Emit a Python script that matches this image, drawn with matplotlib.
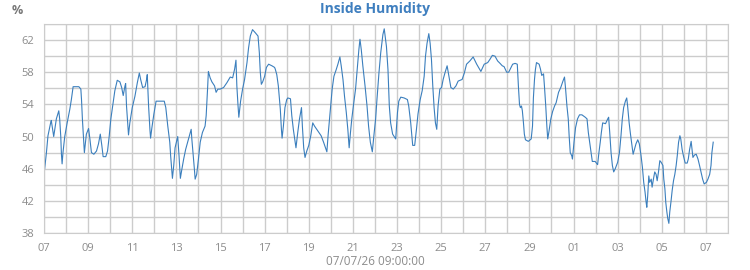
import matplotlib

matplotlib.use("Agg")
import matplotlib.pyplot as plt
import matplotlib.dates as mdates
import numpy as np
import pandas as pd

plt.rcParams["font.family"] = ["Open Sans", "DejaVu Sans"]

START = pd.Timestamp("2026-06-07 00:00")

# days since 2026-06-07 00:00 (one row per stretch)
day_offset = [
    0.03, 0.11, 0.18, 0.30, 0.33, 0.44, 0.56, 0.67, 0.71, 0.76, 0.79, 0.82,
    0.86, 0.94, 1.05, 1.17, 1.24, 1.32, 1.58, 1.67,
    1.70, 1.74, 1.80, 1.83,
    1.88, 1.92, 2.02, 2.08, 2.15, 2.26, 2.38, 2.47, 2.55, 2.62, 2.68, 2.80,
    2.88, 2.95, 3.03, 3.11, 3.21, 3.32,
    3.44, 3.52, 3.59, 3.67, 3.70,
    3.74, 3.80, 3.83,
    3.89, 4.00, 4.12, 4.23, 4.32,
    4.38, 4.47, 4.58, 4.65, 4.68,
    4.74, 4.80, 4.83, 4.89, 4.98, 5.08,
    5.45, 5.52, 5.61, 5.70, 5.74, 5.82,
    5.88, 5.94, 6.02, 6.06, 6.12, 6.18,
    6.24, 6.33, 6.42, 6.55, 6.67,
    6.70, 6.76, 6.82, 6.85,
    6.92, 7.00, 7.08, 7.18, 7.30, 7.35, 7.39, 7.42, 7.45,
    7.53, 7.61, 7.73, 7.80,
    7.88, 7.98, 8.14, 8.29, 8.44, 8.55, 8.64, 8.70,
    8.74, 8.79, 8.83,
    8.91, 9.00, 9.09, 9.20, 9.27, 9.35, 9.45,
    9.58, 9.70, 9.76, 9.80, 9.85,
    9.91, 10.00, 10.08, 10.18, 10.33, 10.45,
    10.48, 10.55, 10.62, 10.67, 10.71, 10.76, 10.79,
    10.85, 10.92, 11.00, 11.05, 11.17,
    11.23, 11.30, 11.36, 11.42, 11.50, 11.58, 11.67,
    11.71, 11.77, 11.83, 11.91, 12.00, 12.09, 12.18,
    12.26, 12.41, 12.56, 12.67, 12.76, 12.82,
    12.88, 12.94, 13.00, 13.06, 13.14, 13.24, 13.32, 13.41,
    13.47, 13.55, 13.62, 13.70, 13.77, 13.83,
    13.89, 13.95, 14.03, 14.12, 14.21, 14.27, 14.32,
    14.38, 14.45, 14.55, 14.64, 14.71, 14.79, 14.88,
    14.95, 15.03, 15.09, 15.18, 15.26, 15.36, 15.42,
    15.52, 15.59, 15.65, 15.71, 15.80, 15.94,
    16.02, 16.08, 16.17, 16.32, 16.47,
    16.53, 16.62, 16.68, 16.71, 16.80,
    16.88, 16.95, 17.05, 17.14, 17.23, 17.29, 17.36, 17.44,
    17.50, 17.56, 17.62, 17.68, 17.74, 17.80,
    17.86, 17.94, 18.02, 18.09, 18.17, 18.27,
    18.35, 18.44, 18.55, 18.67, 18.77, 18.95, 19.05, 19.15, 19.30, 19.45,
    19.61, 19.80, 19.95, 20.11, 20.21, 20.32, 20.44, 20.56, 20.67, 20.77,
    20.85, 20.97, 21.06, 21.15, 21.24, 21.35, 21.45,
    21.50, 21.55, 21.59, 21.64, 21.68, 21.73, 21.77, 21.82, 21.95, 22.08,
    22.14, 22.18, 22.23, 22.27, 22.32, 22.44, 22.50, 22.56, 22.64,
    22.68, 22.74, 22.79, 22.83,
    22.89, 22.97, 23.05, 23.14, 23.21, 23.32, 23.42, 23.52, 23.59,
    23.64, 23.70, 23.76, 23.80, 23.85, 23.92, 23.95,
    24.02, 24.09, 24.18, 24.27, 24.38, 24.53, 24.61,
    24.67, 24.73, 24.79, 24.85, 24.98, 25.09,
    25.15, 25.21, 25.26, 25.32, 25.45, 25.55, 25.59,
    25.64, 25.70, 25.76, 25.82, 25.89, 26.00,
    26.08, 26.15, 26.21, 26.27, 26.35, 26.41,
    26.45, 26.52, 26.58, 26.64, 26.70,
    26.76, 26.83, 26.91, 26.98,
    27.06, 27.12, 27.18, 27.24, 27.29, 27.32,
    27.36, 27.41, 27.45, 27.52, 27.56, 27.62, 27.68, 27.74, 27.79, 27.85,
    27.91, 27.97, 28.05,
    28.09, 28.14, 28.18, 28.23, 28.27, 28.32,
    28.36, 28.42, 28.47, 28.53, 28.59, 28.65, 28.70, 28.76, 28.82, 28.86,
    28.92, 28.98, 29.06, 29.15, 29.20, 29.26, 29.33,
    29.41, 29.48, 29.56, 29.64, 29.71, 29.79, 29.85, 29.92,
    30.02, 30.09, 30.17, 30.23, 30.27, 30.33,
]

humidity = [
    46.0, 48.0, 50.1, 51.7, 52.0, 50.0, 52.2, 53.2, 52.2, 50.0, 47.8, 46.6,
    48.0, 50.0, 51.7, 53.4, 54.6, 56.2, 56.2, 55.9,
    54.6, 52.2, 49.3, 48.0,
    49.3, 50.3, 51.0, 49.7, 48.0, 47.8, 48.2, 49.1, 50.3, 48.9, 47.5, 47.5,
    48.2, 49.9, 52.2, 53.8, 55.7, 57.0,
    56.8, 56.1, 55.1, 56.3, 56.6,
    53.8, 51.3, 50.2,
    51.7, 53.6, 55.0, 56.7, 57.9,
    57.1, 56.1, 56.2, 57.1, 57.7,
    53.8, 50.9, 49.8, 51.1, 52.8, 54.4,
    54.4, 53.6, 51.3, 49.3, 47.6, 44.8,
    46.4, 48.6, 49.5, 50.0, 47.6, 44.8,
    45.8, 47.2, 48.4, 49.7, 50.9,
    49.7, 47.8, 45.8, 44.7,
    45.3, 47.2, 49.3, 50.5, 51.3, 52.6, 54.6, 56.3, 58.1,
    57.3, 56.8, 56.3, 55.5,
    55.9, 55.9, 56.1, 56.7, 57.4, 57.3, 58.4, 59.5,
    56.3, 54.0, 52.4,
    54.4, 55.9, 57.1, 59.2, 61.0, 62.5, 63.3,
    62.9, 62.5, 60.4, 58.1, 56.5,
    56.8, 57.5, 58.6, 59.0, 58.8, 58.6,
    58.4, 57.7, 56.3, 54.6, 53.4, 50.9, 49.8,
    51.3, 53.6, 54.6, 54.8, 54.7,
    52.6, 50.9, 49.7, 48.6, 50.5, 52.2, 53.6,
    51.3, 48.6, 47.4, 48.2, 48.9, 50.1, 51.7,
    51.3, 50.7, 50.1, 49.3, 48.6, 48.1,
    50.3, 52.2, 54.2, 55.9, 57.5, 58.3, 59.0, 59.9,
    58.8, 57.1, 55.0, 53.0, 50.9, 48.6,
    50.5, 52.2, 54.0, 55.9, 58.8, 60.8, 62.1,
    60.8, 58.8, 56.3, 53.8, 51.3, 49.3, 48.1,
    50.1, 52.2, 54.6, 57.9, 60.4, 62.7, 63.4,
    61.2, 58.3, 53.8, 51.7, 50.3, 49.7,
    53.0, 54.4, 54.9, 54.8, 54.6,
    53.8, 51.7, 49.9, 48.9, 48.9,
    50.9, 52.8, 54.6, 55.7, 57.5, 60.0, 61.6, 62.8,
    61.6, 59.6, 56.3, 53.6, 51.7, 50.9,
    53.8, 55.9, 56.1, 57.1, 57.9, 58.8,
    57.5, 56.1, 55.9, 56.3, 56.9, 57.1, 57.9, 59.0, 59.4, 59.9,
    59.0, 58.1, 59.0, 59.2, 59.6, 60.1, 60.0, 59.4, 59.1, 58.8,
    58.7, 58.0, 58.0, 58.5, 59.0, 59.1, 59.0,
    56.3, 54.0, 53.6, 53.8, 53.2, 51.7, 50.3, 49.6, 49.4, 49.7,
    51.3, 54.8, 57.1, 58.3, 59.2, 59.0, 58.4, 57.6, 57.8,
    56.3, 53.8, 51.3, 49.7,
    50.7, 52.2, 53.1, 53.8, 54.2, 55.5, 56.1, 56.9, 57.4,
    55.9, 53.8, 52.2, 50.1, 48.0, 47.6, 47.2,
    49.3, 51.1, 52.2, 52.7, 52.7, 52.4, 52.2,
    50.5, 49.3, 48.0, 46.9, 46.9, 46.5,
    48.0, 49.3, 50.5, 51.7, 51.6, 52.2, 52.4,
    50.5, 48.0, 46.4, 45.6, 46.0, 46.8,
    48.0, 50.1, 52.2, 53.6, 54.4, 54.8,
    53.8, 51.7, 50.3, 49.1, 47.8,
    48.4, 49.1, 49.6, 49.1,
    47.6, 46.2, 44.3, 43.1, 41.8, 41.2,
    42.6, 45.1, 44.3, 44.7, 43.7, 44.7, 45.6, 45.3, 44.5, 45.6,
    47.0, 46.8, 46.4,
    44.7, 43.5, 41.8, 40.6, 39.8, 39.2,
    40.6, 42.0, 43.3, 44.5, 45.3, 46.4, 47.6, 49.3, 50.1, 49.7,
    48.4, 47.6, 46.7, 46.7, 47.2, 48.4, 49.4,
    47.4, 47.7, 47.8, 47.2, 46.4, 45.4, 44.7, 44.1,
    44.3, 44.7, 45.3, 46.4, 48.0, 49.3,
]

y_labels = np.arange(38, 63, 4)
y_grid = np.arange(38, 65, 2)

times = START + pd.to_timedelta(day_offset, unit="D")

fig = plt.figure(figsize=(7.5, 2.7), dpi=100)
ax = fig.add_axes([44 / 750, 37 / 270, 684 / 750, 209 / 270])

ax.plot(times, humidity, color="#3b7fbd", lw=0.8)

ax.set_xlim(START, START + pd.Timedelta(days=31))
ax.set_ylim(38, 64)
ax.set_yticks(y_labels)
ax.set_yticks(y_grid, minor=True)
ax.set_xticks(pd.date_range(START, periods=16, freq="2D"))
ax.set_xticks(pd.date_range(START, periods=32, freq="D"), minor=True)
ax.xaxis.set_major_formatter(mdates.DateFormatter("%d"))

ax.grid(True, which="both", color="#cccccc", lw=1)
ax.set_axisbelow(True)
ax.tick_params(which="both", length=0, colors="#8c8c8c", labelsize=8)
ax.tick_params(axis="x", pad=7)
ax.tick_params(axis="y", pad=7)
for s in ax.spines.values():
    s.set_color("#cccccc")

fig.text(0.5, 0.965, "Inside Humidity", ha="center", va="center",
         color="#3f7fbf", fontsize=10, fontweight="bold")
fig.text(12 / 750, 0.96, "%", ha="left", va="center", color="#777777",
         fontsize=9, fontweight="bold")
fig.text(0.5, 0.03, "07/07/26 09:00:00", ha="center", va="center",
         color="#8c8c8c", fontsize=8.5)

fig.savefig("out.png", dpi=100)
